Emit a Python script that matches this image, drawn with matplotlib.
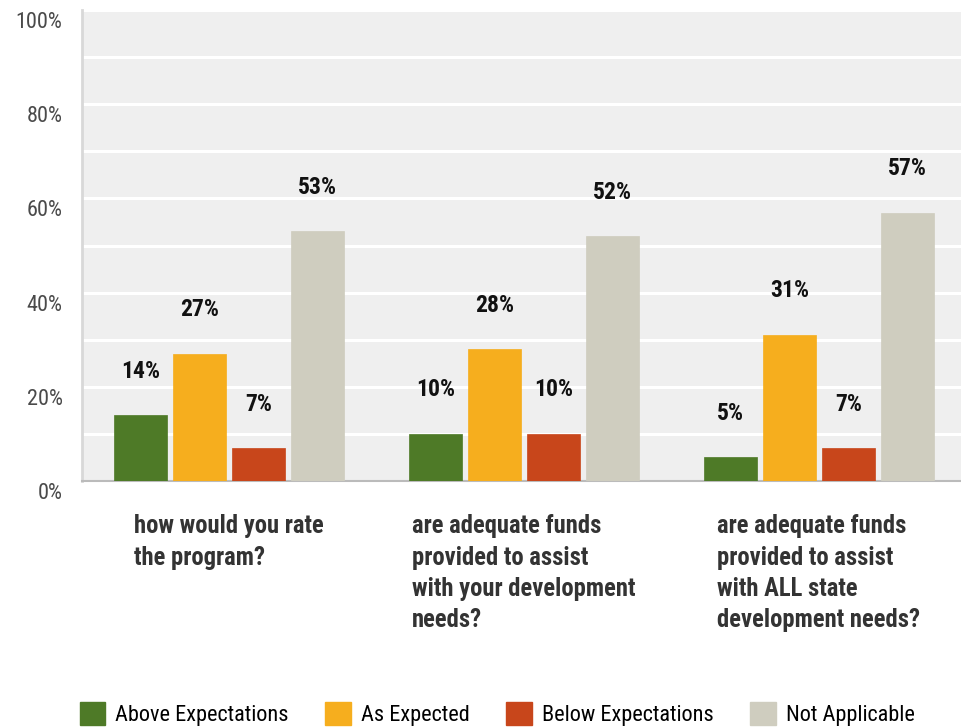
import matplotlib
matplotlib.use("Agg")
import matplotlib.pyplot as plt
import numpy as np
from matplotlib.patches import Patch
from matplotlib import font_manager as fm
import matplotlib.transforms as mtransforms

categories = ["how would you rate\nthe program?",
              "are adequate funds\nprovided to assist\nwith your development\nneeds?",
              "are adequate funds\nprovided to assist\nwith ALL state\ndevelopment needs?"]
series_names = ["Above Expectations", "As Expected", "Below Expectations", "Not Applicable"]
above = [14, 10, 5]
expected = [27, 28, 31]
below = [7, 10, 7]
not_applicable = [53, 52, 57]
colors = ["#4e7a27", "#f6ae1e", "#c8461b", "#cfcdbf"]
yticks = [0, 20, 40, 60, 80, 100]
ytick_labels = ["0%", "20%", "40%", "60%", "80%", "100%"]

names = {f.name for f in fm.fontManager.ttflist}
prefs = ["Liberation Sans Narrow", "Arial Narrow", "Nimbus Sans Narrow", "Roboto Condensed",
         "Archivo Narrow", "PT Sans Narrow", "Open Sans Condensed", "IBM Plex Sans Condensed",
         "Liberation Sans"]
narrow = next((p for p in prefs if p in names), "DejaVu Sans")
plt.rcParams['font.family'] = [narrow, 'DejaVu Sans']

W, H = 962, 727
fig = plt.figure(figsize=(W / 100, H / 100), dpi=100)
fig.patch.set_facecolor("white")
ax = fig.add_axes([82 / W, 1 - 481 / H, (W - 82) / W, (481 - 10) / H])
ax.set_facecolor("#efefef")

x = np.arange(len(categories))
step = 0.2
width = 0.18
data = [above, expected, below, not_applicable]
for i, (vals, c) in enumerate(zip(data, colors)):
    pos = x + (i - 1.5) * step
    bars = ax.bar(pos, vals, width=width, color=c, zorder=3, edgecolor=c, linewidth=0.5)
    for b, v in zip(bars, vals):
        ax.annotate(f"{v}%", (b.get_x() + b.get_width() / 2, v), xytext=(0, 27),
                    textcoords="offset points", ha="center", va="baseline",
                    fontsize=17, fontweight="bold", color="#111111", zorder=4)

ax.set_xlim(-0.498, 2.485)
ax.set_ylim(0, 100)
ax.set_yticks(yticks)
ax.set_yticks(np.arange(10, 100, 20), minor=True)
ax.yaxis.grid(True, which="both", color="white", linewidth=2.2, zorder=0)
ax.set_yticklabels(ytick_labels, fontsize=16, color="#4a4a4a")
ax.tick_params(axis="y", which="both", length=0, pad=14)
offset = mtransforms.ScaledTranslation(0, -10 / 100, fig.dpi_scale_trans)
for lab in ax.get_yticklabels():
    lab.set_transform(lab.get_transform() + offset)
ax.set_xticks([])
for s in ["top", "right"]:
    ax.spines[s].set_visible(False)
ax.spines["left"].set_color("#d8d8d8")
ax.spines["left"].set_linewidth(2)
ax.spines["bottom"].set_color("#bbbbbb")
ax.spines["bottom"].set_linewidth(1.5)
ax.set_axisbelow(True)

for xi, cat in zip(x, categories):
    ax.annotate(cat, (xi, 0), xytext=(0, -24), textcoords="offset points",
                ha="center", va="top", multialignment="left", linespacing=1.38,
                fontsize=17.7, fontweight="bold", color="#333333", annotation_clip=False)

handles = [Patch(facecolor=c, edgecolor=c, label=n) for c, n in zip(colors, series_names)]
fig.legend(handles=handles, loc="center", bbox_to_anchor=(0.5167, 1 - 714 / H), ncol=4,
           frameon=False, fontsize=16, handlelength=1.15, handleheight=1.2,
           columnspacing=1.65, handletextpad=0.45)

fig.savefig("out.png", dpi=100, facecolor="white")
